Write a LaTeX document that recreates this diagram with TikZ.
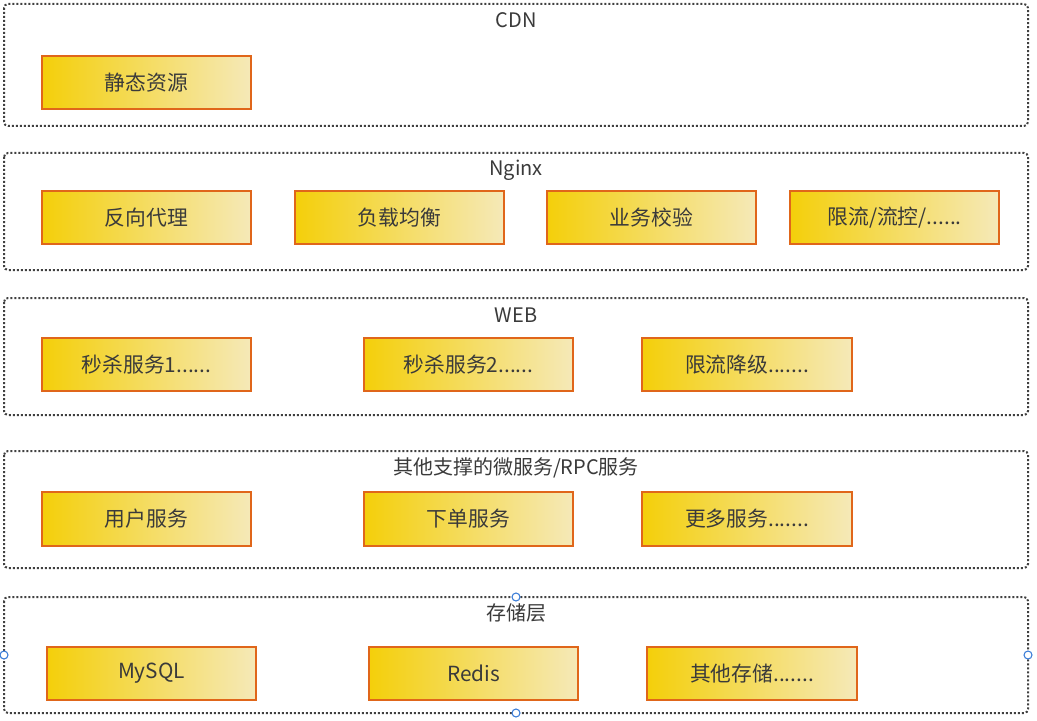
\documentclass[tikz,border=0pt]{standalone}
\usepackage{fontspec}
\setmainfont{Noto Sans CJK SC}
\usetikzlibrary{positioning}
\definecolor{gold}{HTML}{F4CF0A}
\definecolor{pale}{HTML}{F5E9B8}
\definecolor{edge}{HTML}{E0661A}
\definecolor{txt}{HTML}{3A3A3A}
\definecolor{dots}{HTML}{404040}
\definecolor{handle}{HTML}{3B7DD8}
\begin{document}
\begin{tikzpicture}[x=0.75pt,y=-0.75pt,
  layer/.style={draw=dots,line width=1.5pt,dash pattern=on 1.5pt off 1.5pt,rounded corners=3pt},
  ltitle/.style={text=txt,font=\fontsize{15pt}{17pt}\selectfont,inner sep=0pt},
  item/.style={draw=edge,line width=1.4pt,left color=gold,right color=pale,minimum width=157pt,minimum height=40pt,inner sep=0pt,text=txt,font=\fontsize{15.6pt}{17pt}\selectfont},
  hd/.style={circle,draw=handle,fill=white,line width=0.8pt,minimum size=6pt,inner sep=0pt}]
\useasboundingbox (0,0) rectangle (1037,720);
% layers
\draw[layer] (4,4) rectangle (1028,126);
\node[ltitle] (tcdn) at (516,20) {CDN};
\draw[layer] (4,153) rectangle (1028,270);
\node[ltitle] (tng) at (516,170) {Nginx};
\draw[layer] (4,298) rectangle (1028,415);
\node[ltitle] (tweb) at (516,315) {WEB};
\draw[layer] (4,451) rectangle (1028,568);
\node[ltitle] (trpc) at (516,468) {其他支撑的微服务/RPC服务};
\draw[layer] (4,597) rectangle (1028,713);
\node[ltitle] (tst) at (516,613) {存储层};
% items
\node[item] (a1) at (146.5,82.5) {静态资源};
\node[item] (b1) at (146.5,217.5) {反向代理};
\node[item] (b2) at (399.5,217.5) {负载均衡};
\node[item] (b3) at (651.5,217.5) {业务校验};
\node[item] (b4) at (894.5,217.5) {限流/流控/......};
\node[item] (c1) at (146.5,364.5) {秒杀服务1......};
\node[item] (c2) at (468.5,364.5) {秒杀服务2......};
\node[item] (c3) at (747,364.5) {限流降级.......};
\node[item] (d1) at (146.5,519) {用户服务};
\node[item] (d2) at (468.5,519) {下单服务};
\node[item] (d3) at (747,519) {更多服务.......};
\node[item] (e1) at (151.5,673.5) {MySQL};
\node[item] (e2) at (473.5,673.5) {Redis};
\node[item] (e3) at (752,673.5) {其他存储.......};
% selection handles
\node[hd] (h1) at (516,597) {};
\node[hd] (h2) at (516,713) {};
\node[hd] (h3) at (4,655) {};
\node[hd] (h4) at (1028,655) {};
\end{tikzpicture}
\end{document}
